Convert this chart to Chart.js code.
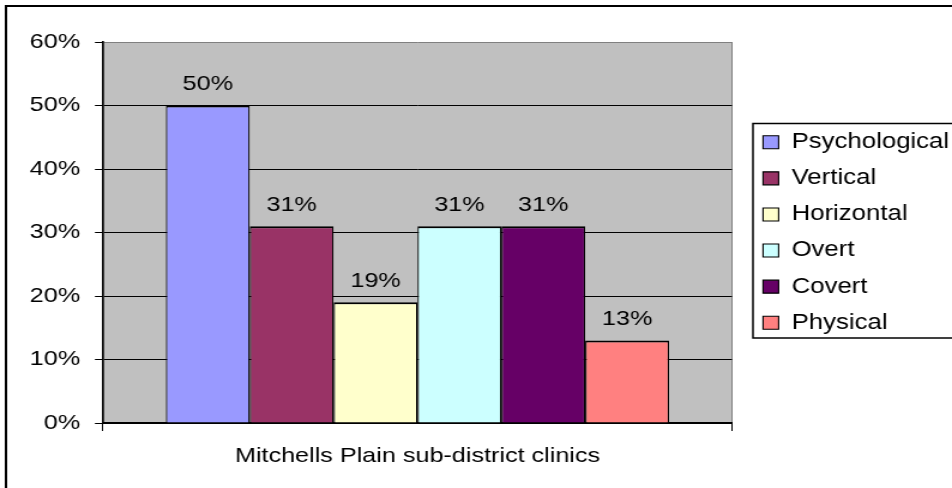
<!DOCTYPE html>
<html>
<head>
<meta charset="utf-8">
<script src="https://cdn.jsdelivr.net/npm/chart.js@4/dist/chart.umd.min.js"></script>
<style>
  html, body { margin: 0; padding: 0; background: #fff; overflow: hidden; }
  /* the source picture is stretched sideways, so draw narrow and stretch */
  #wrap { width: 794px; height: 488px; transform: scaleX(1.19899); transform-origin: 0 0; }
</style>
</head>
<body>
<div id="wrap"><canvas id="chart" width="794" height="488"></canvas></div>
<script>
const categories = ['Mitchells Plain sub-district clinics'];
const seriesNames = ['Psychological', 'Vertical', 'Horizontal', 'Overt', 'Covert', 'Physical'];
const seriesValues = [50, 31, 19, 31, 31, 13];
const seriesColors = ['#9999FF', '#993366', '#FFFFCC', '#CCFFFF', '#660066', '#FF8080'];
const yTicks = [0, 10, 20, 30, 40, 50, 60];

Chart.defaults.font.family = '"Liberation Sans", Arial, sans-serif';
Chart.defaults.font.size = 21;
Chart.defaults.color = '#000';

const datasets = seriesNames.map((name, i) => ({
  label: name,
  data: [seriesValues[i]],
  backgroundColor: seriesColors[i],
  borderColor: '#000',
  borderWidth: { top: 2, left: 1.2, right: 1.2, bottom: 0 },
  borderSkipped: false
}));

// grey plot area and white page
const backdrop = {
  id: 'backdrop',
  beforeDraw(chart) {
    const { ctx, chartArea: a } = chart;
    ctx.save();
    ctx.fillStyle = '#fff';
    ctx.fillRect(0, 0, chart.width, chart.height);
    ctx.fillStyle = '#C0C0C0';
    ctx.fillRect(a.left, a.top, a.right - a.left, a.bottom - a.top);
    ctx.restore();
  }
};

// value labels above the bars
const valueLabels = {
  id: 'valueLabels',
  afterDatasetsDraw(chart) {
    const ctx = chart.ctx;
    ctx.save();
    ctx.fillStyle = '#000';
    ctx.font = '21px "Liberation Sans", Arial, sans-serif';
    ctx.textAlign = 'center';
    ctx.textBaseline = 'alphabetic';
    chart.data.datasets.forEach((ds, i) => {
      chart.getDatasetMeta(i).data.forEach((bar, j) => {
        ctx.fillText(ds.data[j] + '%', bar.x, bar.y - 15.5);
      });
    });
    ctx.restore();
  }
};

// legend frame and outer chart frame
const frames = {
  id: 'frames',
  afterDraw(chart) {
    const ctx = chart.ctx;
    const lg = chart.legend;
    ctx.save();
    ctx.strokeStyle = '#000';
    if (lg && lg.legendHitBoxes && lg.legendHitBoxes.length) {
      const hb = lg.legendHitBoxes;
      const top = hb[0].top - 8;
      const bottom = hb[hb.length - 1].top + 26;
      ctx.lineWidth = 1.5;
      ctx.strokeRect(lg.left + 6.2, top, 400, bottom - top);
    }
    ctx.lineWidth = 2;
    ctx.strokeRect(5, 6, 1000, 1000);
    ctx.restore();
  }
};

new Chart(document.getElementById('chart'), {
  type: 'bar',
  data: { labels: categories, datasets: datasets },
  options: {
    responsive: false,
    animation: false,
    devicePixelRatio: 1,
    layout: { padding: { left: 0, top: 42, right: 0, bottom: 0 } },
    datasets: { bar: { categoryPercentage: 0.8, barPercentage: 1 } },
    plugins: {
      tooltip: { enabled: false },
      legend: {
        position: 'right',
        fullSize: false,
        maxWidth: 172.2,
        labels: {
          boxWidth: 13,
          boxHeight: 13,
          padding: 14.6,
          color: '#000',
          font: { size: 21.5 }
        }
      }
    },
    scales: {
      x: {
        grid: {
          offset: true,
          color: c => c.index === 0 ? 'rgba(0,0,0,0)' : '#808080',
          tickColor: '#000',
          tickLength: 8,
          lineWidth: 1
        },
        border: { color: '#000', width: 2 },
        ticks: { padding: 12.4, color: '#000' },
        afterFit(scale) { scale.height = 65; }
      },
      y: {
        min: 0,
        max: 60,
        afterBuildTicks(scale) { scale.ticks = yTicks.map(v => ({ value: v })); },
        grid: {
          color: c => (c.tick && c.tick.value === 60) ? '#808080' : '#000',
          tickColor: '#000',
          tickLength: 6.7,
          lineWidth: 1
        },
        border: { color: '#000', width: 1.7 },
        ticks: { padding: 12.4, color: '#000', callback: v => v + '%' },
        afterFit(scale) { scale.width = 85.9; }
      },
      y2: {
        type: 'linear',
        position: 'right',
        grid: { display: false },
        border: { display: false },
        ticks: { display: false },
        afterFit(scale) { scale.width = 11.3; }
      }
    }
  },
  plugins: [backdrop, valueLabels, frames]
});
</script>
</body>
</html>
